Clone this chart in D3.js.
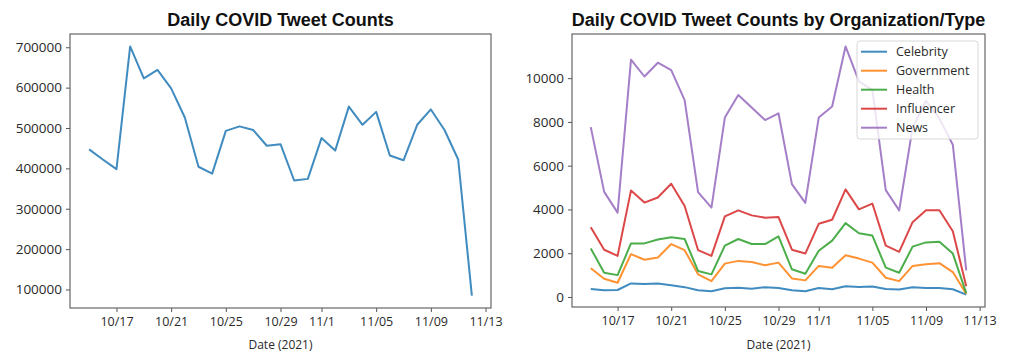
<!DOCTYPE html>
<html>
<head>
<meta charset="utf-8">
<script src="https://cdn.jsdelivr.net/npm/d3@7"></script>
<style>
  body { margin: 0; background: #fff; }
  svg { display: block; }
</style>
</head>
<body>
<svg id="chart" width="1022" height="360"></svg>
<script>
// days in the data (2021)
const dates = [
    "2021-10-15", "2021-10-16", "2021-10-17", "2021-10-18", "2021-10-19", "2021-10-20",
    "2021-10-21", "2021-10-22", "2021-10-23", "2021-10-24", "2021-10-25", "2021-10-26",
    "2021-10-27", "2021-10-28", "2021-10-29", "2021-10-30", "2021-10-31", "2021-11-01",
    "2021-11-02", "2021-11-03", "2021-11-04", "2021-11-05", "2021-11-06", "2021-11-07",
    "2021-11-08", "2021-11-09", "2021-11-10", "2021-11-11", "2021-11-12"
];

const totalCounts = [447000, 422000, 398000, 702000, 623000, 644000, 598000, 526000, 404000, 387000,
    493000, 504000, 495000, 456000, 460000, 370000, 374000, 475000, 444000, 553000,
    508000, 540000, 432000, 420000, 508000, 546000, 495000, 422000, 85000];

const typeNames = ["Celebrity", "Government", "Health", "Influencer", "News"];
const celebrity = [370, 310, 320, 620, 590, 620, 540, 450, 310, 265, 400, 420, 380, 450, 415,
    310, 265, 415, 355, 495, 460, 480, 370, 340, 450, 415, 415, 355, 110];
const government = [1310, 830, 650, 1960, 1700, 1800, 2420, 2140, 1035, 725, 1525, 1650, 1600, 1450, 1570,
    850, 760, 1420, 1340, 1910, 1755, 1570, 880, 725, 1420, 1500, 1545, 1140, 150];
const health = [2220, 1110, 1000, 2450, 2450, 2630, 2730, 2650, 1190, 1035, 2345, 2650, 2420, 2420, 2770,
    1265, 1065, 2110, 2575, 3375, 2910, 2805, 1340, 1110, 2300, 2495, 2530, 1985, 180];
const influencer = [3190, 2160, 1880, 4870, 4315, 4545, 5175, 4160, 2145, 1880, 3685, 3960, 3730, 3625, 3650,
    2160, 1985, 3345, 3530, 4915, 4005, 4270, 2345, 2065, 3420, 3960, 3960, 3005, 495];
const news = [7760, 4805, 3855, 10845, 10075, 10705, 10370, 8995, 4790, 4085, 8200, 9230, 8660, 8085, 8395,
    5160, 4300, 8200, 8705, 11450, 9850, 9450, 4885, 3960, 7735, 8965, 8150, 6960, 1220];

const xTickDates = ["2021-10-17", "2021-10-21", "2021-10-25", "2021-10-29", "2021-11-01", "2021-11-05", "2021-11-09", "2021-11-13"];
const xTickLabels = ["10/17", "10/21", "10/25", "10/29", "11/1", "11/05", "11/09", "11/13"];
const leftYTicks = [100000, 200000, 300000, 400000, 500000, 600000, 700000];
const rightYTicks = [0, 2000, 4000, 6000, 8000, 10000];

const colors = ["#1f77b4", "#ff7f0e", "#2ca02c", "#d62728", "#9467bd"];

const parseDate = d3.timeParse("%Y-%m-%d");
const days = dates.map(parseDate);
const tickDays = xTickDates.map(parseDate);

const svg = d3.select("#chart");
svg.append("rect").attr("width", 1022).attr("height", 360).attr("fill", "#fff");

// matplotlib style 5% margins
function padded(lo, hi) {
    const pad = (hi - lo) * 0.05;
    return [lo - pad, hi + pad];
}

function drawPanel(cfg) {
    const g = svg.append("g");
    const t0 = days[0].getTime(), t1 = days[days.length - 1].getTime();
    const xd = padded(t0, t1);
    const x = d3.scaleTime()
        .domain([new Date(xd[0]), new Date(xd[1])])
        .range([cfg.left, cfg.right]);

    const allVals = cfg.series.flatMap(s => s.values);
    const y = d3.scaleLinear()
        .domain(padded(d3.min(allVals), d3.max(allVals)))
        .range([cfg.bottom, cfg.top]);

    // axes
    const xAxis = d3.axisBottom(x)
        .tickValues(tickDays)
        .tickFormat((d, i) => xTickLabels[i])
        .tickSize(4).tickPadding(5);
    const yAxis = d3.axisLeft(y)
        .tickValues(cfg.yTicks)
        .tickFormat(d3.format("d"))
        .tickSize(4).tickPadding(4);

    const gx = g.append("g")
        .attr("transform", `translate(0, ${cfg.bottom})`)
        .call(xAxis);
    const gy = g.append("g")
        .attr("transform", `translate(${cfg.left}, 0)`)
        .call(yAxis);

    [gx, gy].forEach(a => {
        a.select(".domain").remove();
        a.selectAll(".tick line").attr("stroke", "#555");
        a.selectAll(".tick text")
            .attr("fill", "#2a2a2a")
            .attr("font-family", "'Open Sans', sans-serif");
    });
    gx.selectAll(".tick text").attr("font-size", "12.5px");
    gy.selectAll(".tick text").attr("font-size", "13.5px");

    // lines
    const line = d3.line()
        .x((d, i) => x(days[i]))
        .y(d => y(d));

    cfg.series.forEach(s => {
        g.append("path")
            .datum(s.values)
            .attr("fill", "none")
            .attr("stroke", s.color)
            .attr("stroke-width", 2)
            .attr("stroke-opacity", 0.85)
            .attr("stroke-linejoin", "round")
            .attr("d", line);
    });

    // frame
    g.append("rect")
        .attr("x", cfg.left).attr("y", cfg.top)
        .attr("width", cfg.right - cfg.left)
        .attr("height", cfg.bottom - cfg.top)
        .attr("fill", "none")
        .attr("stroke", "#666")
        .attr("stroke-width", 1.2);

    // title
    g.append("text")
        .attr("x", (cfg.left + cfg.right) / 2)
        .attr("y", 26)
        .attr("text-anchor", "middle")
        .attr("font-family", "'Liberation Sans', Arial, sans-serif")
        .attr("font-weight", "bold")
        .attr("font-size", "18px")
        .attr("fill", "#111")
        .text(cfg.title);

    // x axis label
    g.append("text")
        .attr("x", (cfg.left + cfg.right) / 2)
        .attr("y", 349)
        .attr("text-anchor", "middle")
        .attr("font-family", "'Open Sans', sans-serif")
        .attr("font-size", "12px")
        .attr("fill", "#2a2a2a")
        .text("Date (2021)");

    if (cfg.legend) {
        const lx = cfg.right - 128, ly = cfg.top + 7;
        const lg = g.append("g").attr("transform", `translate(${lx}, ${ly})`);
        lg.append("rect")
            .attr("width", 121).attr("height", 98)
            .attr("rx", 3)
            .attr("fill", "#fff").attr("fill-opacity", 0.8)
            .attr("stroke", "#d8d8d8");
        cfg.series.forEach((s, i) => {
            const yy = 10.7 + i * 19;
            lg.append("line")
                .attr("x1", 4).attr("x2", 30)
                .attr("y1", yy).attr("y2", yy)
                .attr("stroke", s.color)
                .attr("stroke-width", 2)
                .attr("stroke-opacity", 0.85);
            lg.append("text")
                .attr("x", 39).attr("y", yy)
                .attr("dy", "0.35em")
                .attr("font-family", "'Open Sans', sans-serif")
                .attr("font-size", "12.5px")
                .attr("fill", "#2a2a2a")
                .text(s.name);
        });
    }
}

drawPanel({
    left: 70, right: 491, top: 34, bottom: 308,
    title: "Daily COVID Tweet Counts",
    yTicks: leftYTicks,
    series: [{ name: "Total", values: totalCounts, color: colors[0] }],
    legend: false
});

const typeSeries = [celebrity, government, health, influencer, news].map((v, i) => ({
    name: typeNames[i], values: v, color: colors[i]
}));

drawPanel({
    left: 572, right: 985, top: 34, bottom: 307,
    title: "Daily COVID Tweet Counts by Organization/Type",
    yTicks: rightYTicks,
    series: typeSeries,
    legend: true
});
</script>
</body>
</html>
